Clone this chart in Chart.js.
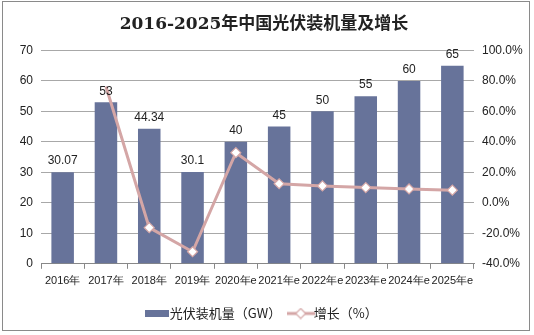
<!DOCTYPE html>
<html>
<head>
<meta charset="utf-8">
<script src="https://cdn.jsdelivr.net/npm/chart.js@4.4.1/dist/chart.umd.min.js"></script>
<style>
  body { margin: 0; background: #fff; }
  #wrap { position: relative; width: 534px; height: 335px; }
  #frame { position: absolute; left: 2px; top: 1px; width: 528px; height: 330px; border: 1px solid #8a8a8a; box-sizing: border-box; pointer-events: none; }
</style>
</head>
<body>
<div id="wrap">
  <canvas id="chart" width="534" height="335"></canvas>
  <div id="frame"></div>
</div>
<script>
const years = ["2016年", "2017年", "2018年", "2019年", "2020年e", "2021年e", "2022年e", "2023年e", "2024年e", "2025年e"];
const capacity = [30.07, 53, 44.34, 30.1, 40, 45, 50, 55, 60, 65];
const growth = [null, 76.3, -16.3, -32.1, 32.9, 12.5, 11.1, 10.0, 9.1, 8.3];
const capacityLabels = ["30.07", "53", "44.34", "30.1", "40", "45", "50", "55", "60", "65"];

const barColor = "#67739a";
const lineColor = "#d4a6a6";
const font = "'Liberation Sans', Arial, sans-serif";

// legend swatches
function barSwatch() {
    const c = document.createElement("canvas");
    c.width = 24; c.height = 7;
    const g = c.getContext("2d");
    g.fillStyle = barColor;
    g.fillRect(0, 0, 24, 7);
    return c;
}
function lineSwatch() {
    const c = document.createElement("canvas");
    c.width = 28; c.height = 12;
    const g = c.getContext("2d");
    g.strokeStyle = lineColor;
    g.lineWidth = 3;
    g.beginPath(); g.moveTo(0, 6); g.lineTo(28, 6); g.stroke();
    g.fillStyle = "#fff";
    g.lineWidth = 1.2;
    g.beginPath();
    g.moveTo(14, 1); g.lineTo(19, 6); g.lineTo(14, 11); g.lineTo(9, 6); g.closePath();
    g.fill(); g.stroke();
    return c;
}

const barLabels = {
    id: "barLabels",
    afterDatasetsDraw(chart) {
        const ctx = chart.ctx;
        const meta = chart.getDatasetMeta(0);
        ctx.save();
        ctx.font = "12px " + font;
        ctx.fillStyle = "#222";
        ctx.textAlign = "center";
        ctx.textBaseline = "bottom";
        meta.data.forEach((bar, i) => {
            ctx.fillText(capacityLabels[i], bar.x, bar.y - 5);
        });
        ctx.restore();
    }
};

new Chart(document.getElementById("chart"), {
    data: {
        labels: years,
        datasets: [
            {
                type: "bar",
                label: "光伏装机量（GW）",
                data: capacity,
                backgroundColor: barColor,
                yAxisID: "y",
                barPercentage: 0.52,
                categoryPercentage: 1,
                order: 2
            },
            {
                type: "line",
                label: "增长（%）",
                data: growth,
                borderColor: lineColor,
                borderWidth: 3,
                pointStyle: "rectRot",
                pointRadius: [0, 0, 5, 5, 5, 5, 5, 5, 5, 5],
                pointBackgroundColor: "#fff",
                pointBorderColor: lineColor,
                pointBorderWidth: 1.2,
                yAxisID: "y1",
                tension: 0,
                order: 1
            }
        ]
    },
    options: {
        responsive: false,
        animation: false,
        layout: { padding: { top: 4, bottom: 5, left: 0, right: 6 } },
        plugins: {
            title: {
                display: true,
                text: "2016-2025年中国光伏装机量及增长",
                font: { family: "'DejaVu Serif', 'Noto Sans CJK SC', serif", size: 17, weight: "bold" },
                color: "#222",
                padding: { top: 10, bottom: 16 }
            },
            legend: {
                position: "bottom",
                labels: {
                    usePointStyle: true,
                    font: { family: "'Noto Sans CJK SC', sans-serif", size: 13 },
                    color: "#222",
                    padding: 13,
                    generateLabels(chart) {
                        return chart.data.datasets.map((ds, i) => ({
                            text: ds.label,
                            pointStyle: i === 0 ? barSwatch() : lineSwatch(),
                            datasetIndex: i,
                            fontColor: "#222",
                            lineWidth: 0
                        }));
                    }
                }
            },
            tooltip: { enabled: false }
        },
        scales: {
            x: {
                grid: { offset: true, drawOnChartArea: false, tickLength: 5, color: "#888" },
                border: { color: "#888" },
                ticks: { font: { family: font, size: 11 }, color: "#222", maxRotation: 0, autoSkip: false, padding: 6 }
            },
            y: {
                position: "left",
                min: 0, max: 70,
                ticks: { stepSize: 10, font: { family: font, size: 12 }, color: "#222", padding: 8 },
                grid: { color: "#a8a8a8", drawTicks: false },
                border: { display: false },
                afterFit(scale) { scale.width = 41; }
            },
            y1: {
                position: "right",
                min: -40, max: 100,
                ticks: { stepSize: 20, font: { family: font, size: 12 }, color: "#222", padding: 8,
                    callback: v => v.toFixed(1) + "%" },
                grid: { drawOnChartArea: false, drawTicks: false },
                border: { display: false },
                afterFit(scale) { scale.width = 54; }
            }
        }
    },
    plugins: [barLabels]
});
</script>
</body>
</html>
